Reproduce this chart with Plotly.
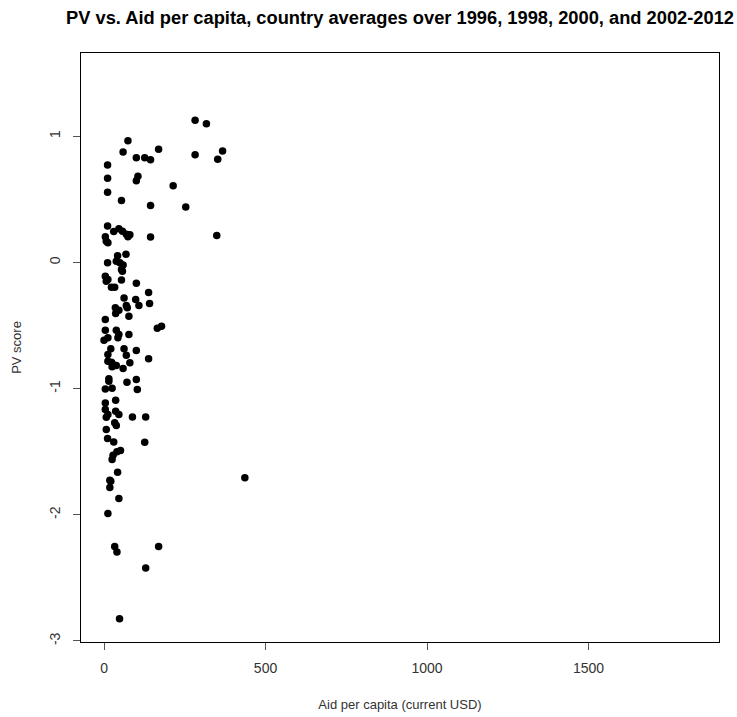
import plotly.graph_objects as go

aid_per_capita = [
    282, 317, 74, 59, 169, 100, 126, 144, 282, 367, 352, 11, 11, 105, 100, 214, 11, 54, 144, 253,
    11, 30, 46, 57, 69, 80, 74, 4, 12, 7, 144, 349, 68, 42, 11, 38, 49, 59, 54, 57,
    4, 12, 7, 54, 100, 23, 33, 138, 62, 98, 108, 141, 35, 46, 36, 69, 72, 77, 4, 4,
    38, 46, 43, 77, 12, 0, 165, 178, 21, 62, 100, 12, 69, 80, 12, 23, 28, 38, 25, 59,
    138, 15, 15, 71, 100, 103, 4, 25, 36, 4, 4, 12, 7, 36, 46, 88, 129, 33, 38, 7,
    11, 30, 126, 51, 40, 28, 25, 42, 18, 21, 436, 18, 46, 12, 33, 40, 169, 129, 48,
]
pv_score = [
    1.128, 1.100, 0.965, 0.875, 0.898, 0.830, 0.830, 0.814, 0.854, 0.883, 0.817, 0.772, 0.668, 0.684, 0.648, 0.608, 0.557, 0.492, 0.452, 0.439,
    0.288, 0.246, 0.267, 0.248, 0.224, 0.220, 0.204, 0.204, 0.156, 0.169, 0.201, 0.214, 0.066, 0.053, -0.002, 0.010, -0.002, -0.021, -0.056, -0.069,
    -0.109, -0.135, -0.148, -0.140, -0.164, -0.196, -0.196, -0.238, -0.282, -0.293, -0.341, -0.325, -0.359, -0.378, -0.404, -0.341, -0.359, -0.426, -0.452, -0.537,
    -0.537, -0.571, -0.597, -0.571, -0.597, -0.616, -0.521, -0.505, -0.684, -0.684, -0.698, -0.730, -0.735, -0.795, -0.783, -0.791, -0.809, -0.817, -0.827, -0.841,
    -0.764, -0.922, -0.941, -0.949, -0.928, -1.007, -1.002, -0.997, -1.092, -1.113, -1.166, -1.205, -1.227, -1.179, -1.205, -1.224, -1.224, -1.271, -1.293, -1.324,
    -1.396, -1.422, -1.425, -1.491, -1.501, -1.528, -1.562, -1.663, -1.726, -1.734, -1.707, -1.784, -1.871, -1.990, -2.252, -2.294, -2.252, -2.421, -2.823,
]

x_ticks = [0, 500, 1000, 1500]
y_ticks = [-3, -2, -1, 0, 1]

title_text = "PV vs. Aid per capita, country averages over 1996, 1998, 2000, and 2002-2012"
x_title = "Aid per capita (current USD)"
y_title = "PV score"

FONT = "Liberation Sans, Arial, sans-serif"

fig = go.Figure()
fig.add_trace(go.Scatter(
    x=aid_per_capita, y=pv_score, mode="markers",
    marker=dict(color="black", size=7.5, line=dict(width=0)),
    showlegend=False, hoverinfo="x+y",
))

axis_common = dict(
    showgrid=False, zeroline=False, showline=True, mirror=True,
    linecolor="black", linewidth=1, ticks="outside", ticklen=7,
    tickcolor="#555555", tickwidth=1, automargin=False,
    tickfont=dict(family=FONT, size=14, color="#333333"),
)

fig.update_layout(
    width=737, height=717,
    margin=dict(l=81, r=18, t=53, b=75),
    paper_bgcolor="white", plot_bgcolor="white",
    title=dict(
        text="<b>" + title_text + "</b>",
        font=dict(family=FONT, size=18.3, color="black"),
        x=400 / 737, xanchor="center", y=1 - 18 / 717, yanchor="middle",
    ),
    xaxis=dict(
        range=[-71.3, 1904], tickvals=x_ticks, ticktext=[str(v) for v in x_ticks],
        ticklabelstandoff=6,
        title=dict(text=x_title, standoff=25,
                   font=dict(family=FONT, size=13, color="#333333")),
        **axis_common,
    ),
    yaxis=dict(
        range=[-3.008, 1.66], tickvals=y_ticks, ticktext=[str(v) for v in y_ticks],
        tickangle=-90, ticklabelstandoff=7,
        title=dict(text=y_title, standoff=22,
                   font=dict(family=FONT, size=13, color="#333333")),
        **axis_common,
    ),
)

fig.write_html(
    "out.html",
    config={"displayModeBar": False},
    post_script="document.body.style.margin='0px';document.body.style.padding='0px';",
)
